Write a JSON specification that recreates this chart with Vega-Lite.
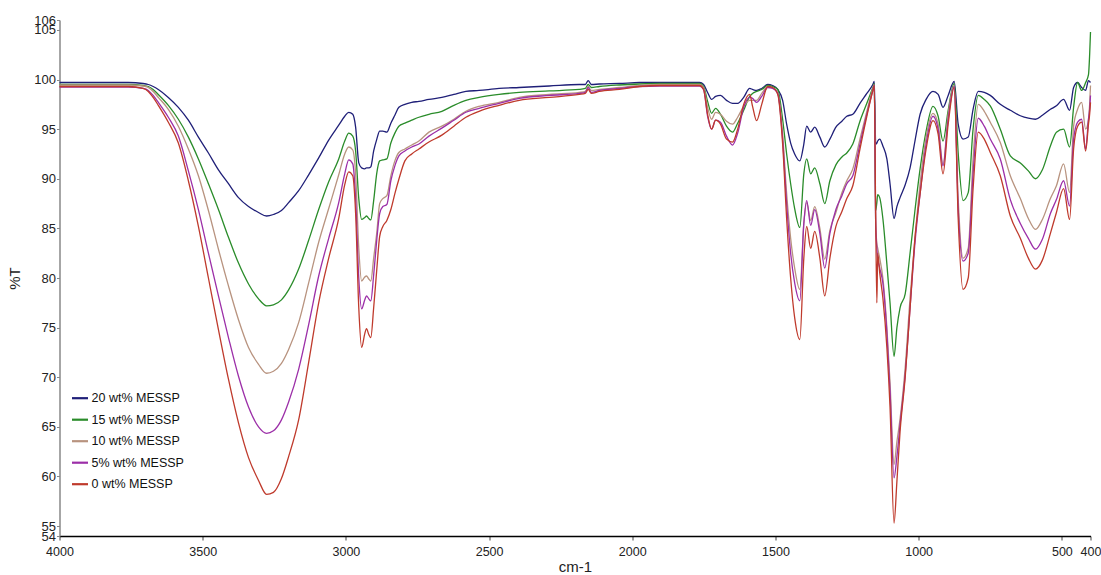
{
  "$schema": "https://vega.github.io/schema/vega-lite/v6.json",
  "width": 1031,
  "height": 516,
  "autosize": {"type": "none"},
  "padding": {"left": 59.5, "top": 20, "right": 10.5, "bottom": 39},
  "background": "white",
  "config": {
    "view": {"stroke": null},
    "font": "Liberation Sans, Arial, sans-serif"
  },
  "data": {
    "values": [
      {"wn": 4000, "w20": 99.7, "w15": 99.5, "w10": 99.45, "w5": 99.25, "w0": 99.3},
      {"wn": 3865, "w20": 99.7, "w15": 99.5, "w10": 99.45, "w5": 99.25, "w0": 99.3},
      {"wn": 3760, "w20": 99.7, "w15": 99.5, "w10": 99.45, "w5": 99.25, "w0": 99.3},
      {"wn": 3708, "w20": 99.6, "w15": 99.4, "w10": 99.35, "w5": 99.1, "w0": 99.1},
      {"wn": 3690, "w20": 99.5, "w15": 99.3, "w10": 99.2, "w5": 98.9, "w0": 98.8},
      {"wn": 3673, "w20": 99.3, "w15": 99.0, "w10": 98.8, "w5": 98.4, "w0": 98.2},
      {"wn": 3655, "w20": 99.0, "w15": 98.5, "w10": 98.2, "w5": 97.7, "w0": 97.4},
      {"wn": 3620, "w20": 98.2, "w15": 97.4, "w10": 97.0, "w5": 96.2, "w0": 95.7},
      {"wn": 3585, "w20": 97.2, "w15": 96.0, "w10": 95.3, "w5": 94.3, "w0": 93.6},
      {"wn": 3550, "w20": 95.9, "w15": 94.2, "w10": 93.0, "w5": 90.8, "w0": 89.8},
      {"wn": 3515, "w20": 94.2, "w15": 92.0, "w10": 90.3, "w5": 86.9, "w0": 85.2},
      {"wn": 3480, "w20": 92.6, "w15": 89.5, "w10": 86.8, "w5": 82.5, "w0": 80.0},
      {"wn": 3445, "w20": 90.9, "w15": 86.9, "w10": 82.9, "w5": 78.2, "w0": 74.8},
      {"wn": 3410, "w20": 89.5, "w15": 84.1, "w10": 79.2, "w5": 74.0, "w0": 69.8},
      {"wn": 3375, "w20": 88.1, "w15": 81.5, "w10": 75.8, "w5": 70.1, "w0": 65.4},
      {"wn": 3340, "w20": 87.2, "w15": 79.4, "w10": 73.0, "w5": 67.0, "w0": 61.9},
      {"wn": 3305, "w20": 86.6, "w15": 77.9, "w10": 71.3, "w5": 65.0, "w0": 59.6},
      {"wn": 3277, "w20": 86.25, "w15": 77.2, "w10": 70.4, "w5": 64.35, "w0": 58.2},
      {"wn": 3253, "w20": 86.4, "w15": 77.3, "w10": 70.6, "w5": 64.6, "w0": 58.4},
      {"wn": 3225, "w20": 86.8, "w15": 77.8, "w10": 71.4, "w5": 65.7, "w0": 59.8},
      {"wn": 3200, "w20": 87.6, "w15": 78.8, "w10": 72.8, "w5": 67.5, "w0": 62.0},
      {"wn": 3165, "w20": 88.8, "w15": 80.9, "w10": 75.5, "w5": 70.8, "w0": 65.7},
      {"wn": 3130, "w20": 90.4, "w15": 83.8, "w10": 79.5, "w5": 75.3, "w0": 71.5},
      {"wn": 3095, "w20": 92.1, "w15": 86.9, "w10": 83.6, "w5": 80.2, "w0": 77.5},
      {"wn": 3060, "w20": 93.9, "w15": 89.7, "w10": 87.0, "w5": 84.0, "w0": 82.0},
      {"wn": 3025, "w20": 95.4, "w15": 92.0, "w10": 90.4, "w5": 87.6, "w0": 86.0},
      {"wn": 3004, "w20": 96.3, "w15": 93.8, "w10": 92.5, "w5": 90.5, "w0": 89.4},
      {"wn": 2990, "w20": 96.7, "w15": 94.6, "w10": 93.2, "w5": 91.9, "w0": 90.7},
      {"wn": 2976, "w20": 96.5, "w15": 94.3, "w10": 92.9, "w5": 91.5, "w0": 90.3},
      {"wn": 2966, "w20": 95.2, "w15": 92.8, "w10": 90.5, "w5": 88.0, "w0": 86.5},
      {"wn": 2955, "w20": 91.6, "w15": 88.0, "w10": 83.0, "w5": 80.0, "w0": 77.0},
      {"wn": 2945, "w20": 91.1, "w15": 85.9, "w10": 79.7, "w5": 76.9, "w0": 73.0},
      {"wn": 2934, "w20": 91.0, "w15": 86.1, "w10": 80.1, "w5": 77.8, "w0": 74.4},
      {"wn": 2928, "w20": 91.1, "w15": 86.25, "w10": 80.2, "w5": 78.2, "w0": 74.9},
      {"wn": 2920, "w20": 91.1, "w15": 86.0, "w10": 79.9, "w5": 77.9, "w0": 74.3},
      {"wn": 2913, "w20": 91.2, "w15": 85.85, "w10": 79.7, "w5": 77.7, "w0": 74.0},
      {"wn": 2903, "w20": 92.8, "w15": 87.8, "w10": 82.0, "w5": 80.3, "w0": 77.0},
      {"wn": 2892, "w20": 94.0, "w15": 90.6, "w10": 84.6, "w5": 83.9, "w0": 80.9},
      {"wn": 2882, "w20": 94.8, "w15": 91.8, "w10": 87.5, "w5": 86.5, "w0": 84.2},
      {"wn": 2871, "w20": 94.8, "w15": 91.9, "w10": 88.0, "w5": 87.2, "w0": 85.2},
      {"wn": 2857, "w20": 94.7, "w15": 92.0, "w10": 88.3, "w5": 87.4, "w0": 85.8},
      {"wn": 2843, "w20": 95.6, "w15": 93.6, "w10": 90.3, "w5": 89.8, "w0": 86.9},
      {"wn": 2829, "w20": 96.4, "w15": 94.6, "w10": 91.8, "w5": 91.3, "w0": 88.5},
      {"wn": 2815, "w20": 97.2, "w15": 95.3, "w10": 92.65, "w5": 92.3, "w0": 89.95},
      {"wn": 2794, "w20": 97.5, "w15": 95.6, "w10": 93.0, "w5": 92.8, "w0": 91.8},
      {"wn": 2770, "w20": 97.7, "w15": 95.9, "w10": 93.4, "w5": 93.2, "w0": 92.5},
      {"wn": 2745, "w20": 97.8, "w15": 96.2, "w10": 93.8, "w5": 93.5, "w0": 93.0},
      {"wn": 2710, "w20": 98.0, "w15": 96.5, "w10": 94.7, "w5": 94.3, "w0": 93.7},
      {"wn": 2665, "w20": 98.2, "w15": 96.8, "w10": 95.3, "w5": 95.1, "w0": 94.4},
      {"wn": 2623, "w20": 98.5, "w15": 97.4, "w10": 96.0, "w5": 95.9, "w0": 95.3},
      {"wn": 2581, "w20": 98.8, "w15": 97.9, "w10": 96.8, "w5": 96.7, "w0": 96.2},
      {"wn": 2535, "w20": 98.9, "w15": 98.2, "w10": 97.3, "w5": 97.1, "w0": 96.8},
      {"wn": 2465, "w20": 99.1, "w15": 98.5, "w10": 97.7, "w5": 97.6, "w0": 97.4},
      {"wn": 2395, "w20": 99.2, "w15": 98.7, "w10": 98.2, "w5": 98.1, "w0": 97.9},
      {"wn": 2290, "w20": 99.35, "w15": 98.85, "w10": 98.5, "w5": 98.4, "w0": 98.2},
      {"wn": 2185, "w20": 99.5, "w15": 99.0, "w10": 98.7, "w5": 98.6, "w0": 98.5},
      {"wn": 2164, "w20": 99.5, "w15": 99.1, "w10": 98.8, "w5": 98.7, "w0": 98.6},
      {"wn": 2154, "w20": 99.9, "w15": 99.5, "w10": 99.3, "w5": 99.2, "w0": 99.0},
      {"wn": 2143, "w20": 99.5, "w15": 99.2, "w10": 98.9, "w5": 98.7, "w0": 98.6},
      {"wn": 2115, "w20": 99.55, "w15": 99.3, "w10": 99.0, "w5": 98.9, "w0": 98.8},
      {"wn": 2045, "w20": 99.6, "w15": 99.45, "w10": 99.2, "w5": 99.1, "w0": 99.0},
      {"wn": 1975, "w20": 99.7, "w15": 99.55, "w10": 99.4, "w5": 99.3, "w0": 99.3},
      {"wn": 1905, "w20": 99.7, "w15": 99.6, "w10": 99.5, "w5": 99.35, "w0": 99.4},
      {"wn": 1835, "w20": 99.7, "w15": 99.6, "w10": 99.5, "w5": 99.35, "w0": 99.4},
      {"wn": 1765, "w20": 99.7, "w15": 99.6, "w10": 99.5, "w5": 99.35, "w0": 99.4},
      {"wn": 1751, "w20": 99.5, "w15": 99.3, "w10": 99.2, "w5": 99.0, "w0": 99.0},
      {"wn": 1737, "w20": 98.7, "w15": 97.8, "w10": 97.2, "w5": 96.3, "w0": 96.5},
      {"wn": 1723, "w20": 98.0, "w15": 96.6, "w10": 96.0, "w5": 95.0, "w0": 95.0},
      {"wn": 1709, "w20": 98.3, "w15": 97.1, "w10": 96.7, "w5": 95.9, "w0": 95.9},
      {"wn": 1692, "w20": 98.4, "w15": 96.5, "w10": 96.5, "w5": 95.7, "w0": 95.5},
      {"wn": 1671, "w20": 97.9, "w15": 95.3, "w10": 95.8, "w5": 94.3, "w0": 94.0},
      {"wn": 1650, "w20": 97.6, "w15": 94.7, "w10": 95.5, "w5": 93.4, "w0": 93.7},
      {"wn": 1632, "w20": 97.6, "w15": 95.6, "w10": 96.2, "w5": 94.6, "w0": 95.0},
      {"wn": 1611, "w20": 98.2, "w15": 96.9, "w10": 97.3, "w5": 97.2, "w0": 97.5},
      {"wn": 1590, "w20": 99.1, "w15": 98.3, "w10": 97.9, "w5": 98.2, "w0": 98.5},
      {"wn": 1580, "w20": 99.0, "w15": 98.6, "w10": 97.9, "w5": 98.1, "w0": 97.3},
      {"wn": 1566, "w20": 98.9, "w15": 98.8, "w10": 97.9, "w5": 97.7, "w0": 95.85},
      {"wn": 1548, "w20": 99.1, "w15": 99.0, "w10": 98.6, "w5": 98.3, "w0": 97.5},
      {"wn": 1527, "w20": 99.5, "w15": 99.4, "w10": 99.3, "w5": 99.2, "w0": 99.3},
      {"wn": 1510, "w20": 99.4, "w15": 99.3, "w10": 99.2, "w5": 99.1, "w0": 99.2},
      {"wn": 1492, "w20": 99.0, "w15": 99.0, "w10": 98.7, "w5": 98.6, "w0": 98.5},
      {"wn": 1475, "w20": 97.9, "w15": 96.0, "w10": 94.5, "w5": 94.0, "w0": 93.5},
      {"wn": 1461, "w20": 95.5, "w15": 92.5, "w10": 88.5, "w5": 87.5, "w0": 86.0},
      {"wn": 1447, "w20": 93.6, "w15": 89.5, "w10": 84.0, "w5": 82.5, "w0": 80.0},
      {"wn": 1433, "w20": 92.5, "w15": 87.0, "w10": 81.0, "w5": 79.5, "w0": 76.0},
      {"wn": 1415, "w20": 91.8, "w15": 85.1, "w10": 78.85, "w5": 77.7, "w0": 73.8},
      {"wn": 1401, "w20": 93.5, "w15": 90.5, "w10": 85.5, "w5": 85.5, "w0": 82.0},
      {"wn": 1391, "w20": 95.3, "w15": 92.0, "w10": 87.6, "w5": 87.8, "w0": 85.2},
      {"wn": 1377, "w20": 94.7, "w15": 90.5, "w10": 85.8, "w5": 85.3, "w0": 83.0},
      {"wn": 1363, "w20": 95.2, "w15": 91.1, "w10": 87.2, "w5": 86.9, "w0": 84.7},
      {"wn": 1345, "w20": 94.2, "w15": 89.5, "w10": 85.0, "w5": 84.5, "w0": 82.0},
      {"wn": 1328, "w20": 93.2, "w15": 87.5, "w10": 81.9, "w5": 81.0, "w0": 78.2},
      {"wn": 1310, "w20": 94.0, "w15": 89.8, "w10": 84.8, "w5": 84.5, "w0": 82.0},
      {"wn": 1289, "w20": 95.2, "w15": 91.4, "w10": 86.6, "w5": 86.9, "w0": 85.2},
      {"wn": 1268, "w20": 95.8, "w15": 92.2, "w10": 88.6, "w5": 88.3, "w0": 86.7},
      {"wn": 1251, "w20": 96.3, "w15": 92.6, "w10": 89.8, "w5": 89.5, "w0": 88.0},
      {"wn": 1230, "w20": 96.5, "w15": 93.5, "w10": 91.0, "w5": 90.3, "w0": 89.3},
      {"wn": 1205, "w20": 97.6, "w15": 95.8, "w10": 94.0, "w5": 93.5, "w0": 93.0},
      {"wn": 1181, "w20": 98.6, "w15": 97.6, "w10": 96.8, "w5": 96.5, "w0": 96.3},
      {"wn": 1160, "w20": 99.5, "w15": 99.2, "w10": 99.1, "w5": 98.9, "w0": 98.9},
      {"wn": 1155, "w20": 99.8, "w15": 99.6, "w10": 99.5, "w5": 99.4, "w0": 99.4},
      {"wn": 1150, "w20": 93.5, "w15": 86.8, "w10": 85.5, "w5": 85.5, "w0": 86.0},
      {"wn": 1146, "w20": 93.6, "w15": 87.6, "w10": 83.5, "w5": 83.0, "w0": 77.5},
      {"wn": 1143, "w20": 93.8, "w15": 88.4, "w10": 83.0, "w5": 82.0, "w0": 82.5},
      {"wn": 1136, "w20": 94.0, "w15": 88.1, "w10": 82.0, "w5": 81.0, "w0": 80.5},
      {"wn": 1125, "w20": 93.3, "w15": 86.0, "w10": 80.0, "w5": 79.5, "w0": 78.0},
      {"wn": 1111, "w20": 92.0, "w15": 81.4, "w10": 75.0, "w5": 74.5, "w0": 73.0},
      {"wn": 1100, "w20": 89.5, "w15": 77.5, "w10": 69.5, "w5": 68.6, "w0": 67.0},
      {"wn": 1086, "w20": 86.0, "w15": 72.1, "w10": 61.2, "w5": 59.85, "w0": 55.3},
      {"wn": 1076, "w20": 87.2, "w15": 75.0, "w10": 63.5, "w5": 62.0, "w0": 59.5},
      {"wn": 1065, "w20": 88.1, "w15": 77.0, "w10": 65.8, "w5": 65.2, "w0": 64.5},
      {"wn": 1047, "w20": 89.4, "w15": 78.4, "w10": 71.0, "w5": 70.3, "w0": 70.0},
      {"wn": 1030, "w20": 91.1, "w15": 82.5, "w10": 78.0, "w5": 77.0, "w0": 77.0},
      {"wn": 1013, "w20": 93.8, "w15": 86.8, "w10": 84.0, "w5": 83.5, "w0": 84.0},
      {"wn": 995, "w20": 96.5, "w15": 91.0, "w10": 89.5, "w5": 88.5, "w0": 88.5},
      {"wn": 974, "w20": 98.0, "w15": 94.8, "w10": 94.2, "w5": 93.5, "w0": 93.0},
      {"wn": 950, "w20": 98.8, "w15": 97.3, "w10": 96.6, "w5": 96.3, "w0": 95.85},
      {"wn": 932, "w20": 98.5, "w15": 96.3, "w10": 95.5, "w5": 95.0, "w0": 94.5},
      {"wn": 915, "w20": 97.2, "w15": 93.8, "w10": 91.4, "w5": 91.3, "w0": 90.5},
      {"wn": 897, "w20": 98.4, "w15": 96.9, "w10": 96.5, "w5": 96.0, "w0": 95.5},
      {"wn": 876, "w20": 99.8, "w15": 99.6, "w10": 99.4, "w5": 99.3, "w0": 99.2},
      {"wn": 862, "w20": 95.5, "w15": 92.6, "w10": 88.0, "w5": 87.0, "w0": 86.0},
      {"wn": 845, "w20": 94.0, "w15": 87.8, "w10": 82.0, "w5": 81.7, "w0": 78.85},
      {"wn": 827, "w20": 94.2, "w15": 88.6, "w10": 83.0, "w5": 82.5, "w0": 80.0},
      {"wn": 810, "w20": 97.0, "w15": 95.0, "w10": 92.0, "w5": 90.5, "w0": 89.0},
      {"wn": 792, "w20": 98.8, "w15": 98.4, "w10": 97.5, "w5": 96.1, "w0": 94.7},
      {"wn": 771, "w20": 98.7, "w15": 98.0, "w10": 96.8, "w5": 95.3, "w0": 94.0},
      {"wn": 750, "w20": 98.4, "w15": 97.35, "w10": 95.7, "w5": 94.0, "w0": 92.65},
      {"wn": 715, "w20": 97.5, "w15": 95.0, "w10": 93.65, "w5": 92.0, "w0": 90.3},
      {"wn": 680, "w20": 96.9, "w15": 92.3, "w10": 90.3, "w5": 87.9, "w0": 86.25},
      {"wn": 645, "w20": 96.35, "w15": 91.6, "w10": 88.0, "w5": 85.5, "w0": 84.0},
      {"wn": 617, "w20": 96.1, "w15": 90.8, "w10": 86.0, "w5": 84.0, "w0": 82.0},
      {"wn": 592, "w20": 96.0, "w15": 90.0, "w10": 84.9, "w5": 82.9, "w0": 80.9},
      {"wn": 568, "w20": 96.4, "w15": 90.9, "w10": 85.9, "w5": 83.9, "w0": 81.8},
      {"wn": 540, "w20": 97.0, "w15": 93.3, "w10": 88.0, "w5": 86.5, "w0": 84.5},
      {"wn": 519, "w20": 97.35, "w15": 94.7, "w10": 89.3, "w5": 87.9, "w0": 86.6},
      {"wn": 494, "w20": 98.0, "w15": 95.0, "w10": 91.5, "w5": 89.8, "w0": 89.0},
      {"wn": 473, "w20": 96.9, "w15": 93.2, "w10": 88.6, "w5": 87.25, "w0": 85.9},
      {"wn": 459, "w20": 99.2, "w15": 97.2, "w10": 95.3, "w5": 94.0, "w0": 93.0},
      {"wn": 445, "w20": 99.7, "w15": 99.7, "w10": 97.0, "w5": 95.7, "w0": 95.3},
      {"wn": 431, "w20": 99.2, "w15": 98.9, "w10": 97.7, "w5": 96.0, "w0": 95.7},
      {"wn": 417, "w20": 98.9, "w15": 99.7, "w10": 95.0, "w5": 93.0, "w0": 92.8},
      {"wn": 407, "w20": 99.9, "w15": 100.5, "w10": 96.0, "w5": 96.0, "w0": 95.5},
      {"wn": 403, "w20": 99.8, "w15": 102.5, "w10": 97.5, "w5": 97.0, "w0": 96.5},
      {"wn": 400, "w20": 99.7, "w15": 104.8, "w10": 99.4, "w5": 98.4, "w0": 97.7}
    ]
  },
  "transform": [
    {"fold": ["w20", "w15", "w10", "w5", "w0"], "as": ["series", "t"]}
  ],
  "mark": {"type": "line", "strokeWidth": 1.3, "interpolate": "monotone"},
  "encoding": {
    "x": {
      "field": "wn",
      "type": "quantitative",
      "scale": {"domain": [4000, 400], "nice": false, "zero": false},
      "axis": {
        "title": "cm-1",
        "values": [4000, 3500, 3000, 2500, 2000, 1500, 1000, 500, 400],
        "format": "d",
        "grid": false,
        "domainColor": "#000000",
        "domainWidth": 1.5,
        "tickColor": "#444444",
        "tickSize": 4,
        "labelPadding": 5,
        "labelFontSize": 12.5,
        "labelColor": "#222222",
        "labelFlush": false,
        "labelOverlap": false,
        "titleFontSize": 15,
        "titleFontWeight": "normal",
        "titleColor": "#222222",
        "titlePadding": 2
      }
    },
    "y": {
      "field": "t",
      "type": "quantitative",
      "scale": {"domain": [54, 106], "nice": false, "zero": false},
      "axis": {
        "title": "%T",
        "values": [54, 55, 60, 65, 70, 75, 80, 85, 90, 95, 100, 105, 106],
        "grid": false,
        "domainColor": "#888888",
        "domainWidth": 1.5,
        "tickColor": "#888888",
        "tickSize": 3,
        "labelPadding": 1,
        "labelFontSize": 13,
        "labelColor": "#222222",
        "labelFlush": false,
        "labelOverlap": false,
        "titleFontSize": 15,
        "titleFontWeight": "normal",
        "titleColor": "#222222",
        "titlePadding": 11
      }
    },
    "color": {
      "field": "series",
      "type": "nominal",
      "scale": {
        "domain": ["w20", "w15", "w10", "w5", "w0"],
        "range": ["#1f1f78", "#2a8c2a", "#b8937f", "#9c2fa8", "#bf3a2c"]
      },
      "legend": {
        "orient": "none",
        "legendX": 11,
        "legendY": 368.7,
        "title": null,
        "padding": 0,
        "symbolType": "stroke",
        "symbolSize": 256,
        "symbolStrokeWidth": 2.2,
        "labelFontSize": 12.5,
        "labelColor": "#111111",
        "labelOffset": 2,
        "rowPadding": 5.5,
        "labelExpr": "datum.label == 'w20' ? '20 wt% MESSP' : datum.label == 'w15' ? '15 wt% MESSP' : datum.label == 'w10' ? '10 wt% MESSP' : datum.label == 'w5' ? '5% wt% MESSP' : '0 wt% MESSP'"
      }
    }
  }
}
